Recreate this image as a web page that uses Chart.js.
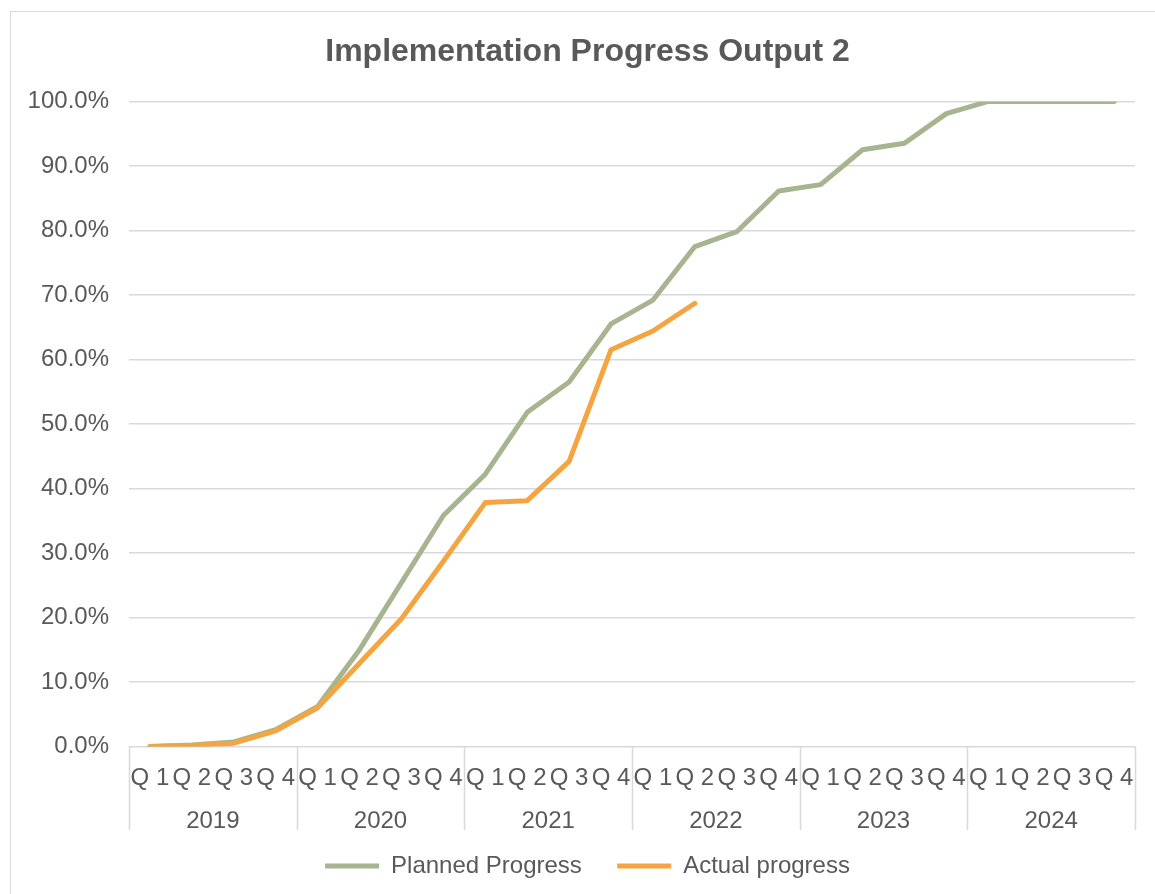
<!DOCTYPE html>
<html>
<head>
<meta charset="utf-8">
<title>Implementation Progress Output 2</title>
<script src="https://cdn.jsdelivr.net/npm/chart.js@4/dist/chart.umd.min.js"></script>
<style>
  html, body { margin: 0; padding: 0; background: #fff; overflow: hidden; }
  #wrap { position: relative; width: 1155px; height: 894px; overflow: hidden; }
  #frame { position: absolute; left: 10px; top: 11px; width: 1170px; height: 900px; border: 1px solid #d9d9d9; }
  #chart { position: absolute; left: 0; top: 0; }
</style>
</head>
<body>
<div id="wrap">
  <div id="frame"></div>
  <canvas id="chart" width="1175" height="894"></canvas>
</div>
<script>
// quarters, grouped four per year
const quarters = [
  'Q 1', 'Q 2', 'Q 3', 'Q 4', 'Q 1', 'Q 2', 'Q 3', 'Q 4',
  'Q 1', 'Q 2', 'Q 3', 'Q 4', 'Q 1', 'Q 2', 'Q 3', 'Q 4',
  'Q 1', 'Q 2', 'Q 3', 'Q 4', 'Q 1', 'Q 2', 'Q 3', 'Q 4'
];
const years = ['2019', '2020', '2021', '2022', '2023', '2024'];

// cumulative progress, percent
const plannedProgress = [
  0.0, 0.2, 0.7, 2.6, 6.2, 15.0, 25.4, 35.8,
  42.2, 51.8, 56.5, 65.5, 69.2, 77.5, 79.8, 86.1,
  87.1, 92.5, 93.5, 98.1, 100, 100, 100, 100
];
const actualProgress = [
  0.0, 0.15, 0.5, 2.4, 6.0, 12.9, 19.8, 28.7,
  37.8, 38.1, 44.2, 61.5, 64.4, 68.7
];

const yTicks = { min: 0, max: 100, step: 10 };

(function() {
  'use strict';

  const TEXT = '#595959';
  const GRID = '#d9d9d9';
  const FONT = "'Liberation Sans', Arial, sans-serif";
  const GREEN = '#a6b58f';
  const ORANGE = '#f4a542';

  // lines between year groups below the plot
  const yearDividers = {
    id: 'yearDividers',
    afterDraw(chart) {
      const x = chart.scales.x;
      const x2 = chart.scales.x2;
      const ctx = chart.ctx;
      const top = chart.chartArea.bottom;
      const bottom = x2.bottom - 2;
      const edges = [x.left];
      for (let g = 1; g < years.length; g++) {
        const i = g * 4;
        edges.push((x.getPixelForValue(i - 1) + x.getPixelForValue(i)) / 2);
      }
      edges.push(x.right);
      ctx.save();
      ctx.strokeStyle = GRID;
      ctx.lineWidth = 1.5;
      edges.forEach(px => {
        ctx.beginPath();
        ctx.moveTo(Math.round(px) + 0.5, top);
        ctx.lineTo(Math.round(px) + 0.5, bottom);
        ctx.stroke();
      });
      ctx.restore();
    }
  };

  Chart.defaults.font.family = FONT;
  Chart.defaults.color = TEXT;

  new Chart(document.getElementById('chart'), {
    type: 'line',
    data: {
      labels: quarters,
      datasets: [{
        label: 'Planned Progress',
        data: plannedProgress,
        borderColor: GREEN,
        backgroundColor: GREEN,
        borderWidth: 5,
        borderCapStyle: 'round',
        borderJoinStyle: 'round',
        pointRadius: 0,
        tension: 0,
        order: 1
      }, {
        label: 'Actual progress',
        data: actualProgress,
        borderColor: ORANGE,
        backgroundColor: ORANGE,
        borderWidth: 5,
        borderCapStyle: 'round',
        borderJoinStyle: 'round',
        pointRadius: 0,
        tension: 0,
        order: 0
      }]
    },
    options: {
      responsive: false,
      animation: false,
      devicePixelRatio: 1,
      layout: { padding: { left: 0, right: 0, top: 15, bottom: 6 } },
      plugins: {
        title: {
          display: true,
          text: 'Implementation Progress Output 2',
          color: TEXT,
          font: { size: 32, weight: 'bold' },
          padding: { top: 18, bottom: 30 }
        },
        legend: {
          position: 'bottom',
          labels: {
            usePointStyle: true,
            pointStyle: 'line',
            pointStyleWidth: 54,
            padding: 22,
            color: TEXT,
            font: { size: 24 },
            sort: (a, b) => a.datasetIndex - b.datasetIndex,
            generateLabels(chart) {
              const items = Chart.defaults.plugins.legend.labels.generateLabels(chart);
              // widen the gap after the first entry
              items.forEach(it => { if (it.datasetIndex === 0) it.text += '  '; });
              return items;
            }
          }
        },
        tooltip: { enabled: false }
      },
      scales: {
        y: {
          min: yTicks.min,
          max: yTicks.max,
          afterFit(scale) { scale.width = 129; },
          ticks: {
            stepSize: yTicks.step,
            padding: 20,
            color: TEXT,
            font: { size: 24 },
            callback: v => v.toFixed(1) + '%'
          },
          grid: { color: GRID, lineWidth: 1.5, drawTicks: false },
          border: { display: false }
        },
        yRight: {
          position: 'right',
          afterFit(scale) { scale.width = 40; },
          ticks: { display: false },
          grid: { display: false, drawTicks: false },
          border: { display: false }
        },
        x: {
          offset: true,
          ticks: {
            padding: 18,
            color: TEXT,
            font: { size: 24 },
            maxRotation: 0,
            autoSkip: false
          },
          grid: { display: false, drawTicks: false },
          border: { display: false }
        },
        x2: {
          type: 'category',
          labels: years,
          position: 'bottom',
          offset: true,
          ticks: {
            padding: -4,
            color: TEXT,
            font: { size: 24 },
            maxRotation: 0,
            autoSkip: false
          },
          grid: { display: false, drawTicks: false },
          border: { display: false }
        }
      }
    },
    plugins: [yearDividers]
  });
})();
</script>
</body>
</html>
